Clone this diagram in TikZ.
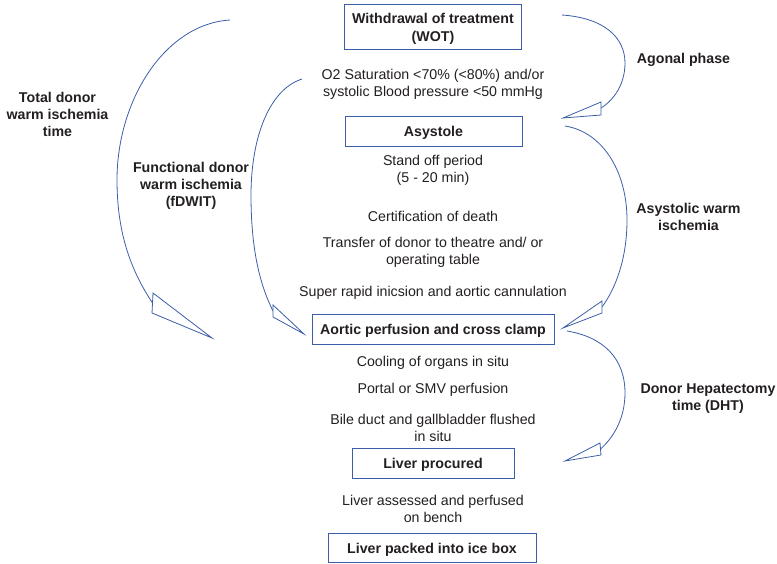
\documentclass[tikz,border=0pt]{standalone}
\usepackage{fontspec}
\setmainfont{Liberation Sans}
\definecolor{arcblue}{RGB}{58,94,168}
\definecolor{txt}{RGB}{35,31,32}
\begin{document}
\begin{tikzpicture}[x=1pt,y=-1pt,
  every node/.style={text=txt, font=\fontsize{14.2}{17}\selectfont, inner sep=0pt},
  stepbox/.style={draw=arcblue, line width=0.8pt, align=center, text height=12pt, text depth=1pt,
    font=\fontsize{14.2}{18}\selectfont\bfseries},
  note/.style={align=center},
  sidelabel/.style={align=center, font=\fontsize{14.2}{16.7}\selectfont\bfseries},
  frame/.style={draw=arcblue, line width=0.8pt},
  arcline/.style={draw=arcblue, line width=0.8pt},
  head/.style={draw=arcblue, line width=0.8pt, fill=white, line join=miter}]
\useasboundingbox (0,0) rectangle (777,563);

% main sequence of steps
\node[stepbox, draw=none, text height=29pt, text depth=0.5pt, minimum width=176pt, minimum height=44pt] (wot) at (433,27)
  {Withdrawal of treatment\\(WOT)};
\node[note] (o2) at (433,84.5) {O2 Saturation <70\% (<80\%) and/or\\systolic Blood pressure <50 mmHg};
\node[stepbox, minimum width=177pt, minimum height=30pt] (asys) at (433.5,131) {Asystole};
\node[note] (standoff) at (433,170.5) {Stand off period\\(5 - 20 min)};
\node[note] (cert) at (433,216) {Certification of death};
\node[note] (transfer) at (433,252) {Transfer of donor to theatre and/ or\\operating table};
\node[note] (incision) at (433,292.5) {Super rapid inicsion and aortic cannulation};
\node[stepbox, minimum width=242pt, minimum height=30pt] (aortic) at (433,329) {Aortic perfusion and cross clamp};
\node[note] (cooling) at (433,363) {Cooling of organs in situ};
\node[note] (portal) at (433,390) {Portal or SMV perfusion};
\node[note] (bile) at (433,428) {Bile duct and gallbladder flushed\\in situ};
\node[stepbox, minimum width=162pt, minimum height=30pt] (procured) at (433,463) {Liver procured};
\node[note] (bench) at (433,509) {Liver assessed and perfused\\on bench};
\node[stepbox, minimum width=208pt, minimum height=29pt] (icebox) at (432,547.5) {Liver packed into ice box};

% frame of the first step
\draw[frame] (wot.south west) rectangle (wot.north east);

% interval labels
\node[sidelabel] (total) at (57.5,114.5) {Total donor\\warm ischemia\\time};
\node[sidelabel] (fdwit) at (191,186) {Functional donor\\warm ischemia\\(fDWIT)};
\node[sidelabel] (agonal) at (683.5,59.5) {Agonal phase};
\node[sidelabel] (asw) at (688.5,217) {Asystolic warm\\ischemia};
\node[sidelabel] (dht) at (708,398.5) {Donor Hepatectomy\\time (DHT)};

% arc end points
\coordinate (totS) at (230,20);
\coordinate (totE) at (152.5,303);
\coordinate (fdS) at (302,79);
\coordinate (fdE) at (273,311);
\coordinate (agS) at (562,15);
\coordinate (agE) at (601,108);
\coordinate (awS) at (565,126);
\coordinate (awE) at (602,307);
\coordinate (dhS) at (567,331);
\coordinate (dhE) at (600.5,449);

% curved interval arcs
\draw[arcline] (totS) .. controls (165,24) and (117,100) .. (117,180)
                      .. controls (117,235) and (132,272) .. (totE);
\draw[arcline] (fdS) .. controls (268,90) and (251,140) .. (251,195)
                     .. controls (251,250) and (260,285) .. (fdE);
\draw[arcline] (agS) .. controls (605,18) and (625,38) .. (625,63)
                     .. controls (625,84) and (614,100) .. (agE);
\draw[arcline] (awS) .. controls (603,132) and (627,172) .. (627,220)
                     .. controls (627,258) and (616,288) .. (awE);
\draw[arcline] (dhS) .. controls (603,337) and (625,358) .. (625,393)
                     .. controls (625,419) and (613,438) .. (dhE);

% open arrow heads
\draw[head] (153,293) -- (212,338) -- (152,313) -- cycle;
\draw[head] (273,305) -- (304,334) -- (273,317) -- cycle;
\draw[head] (601,102) -- (563,118) -- (601,115) -- cycle;
\draw[head] (602,301) -- (563,328) -- (602,313) -- cycle;
\draw[head] (600,443) -- (565,461) -- (601,455) -- cycle;
\end{tikzpicture}
\end{document}
